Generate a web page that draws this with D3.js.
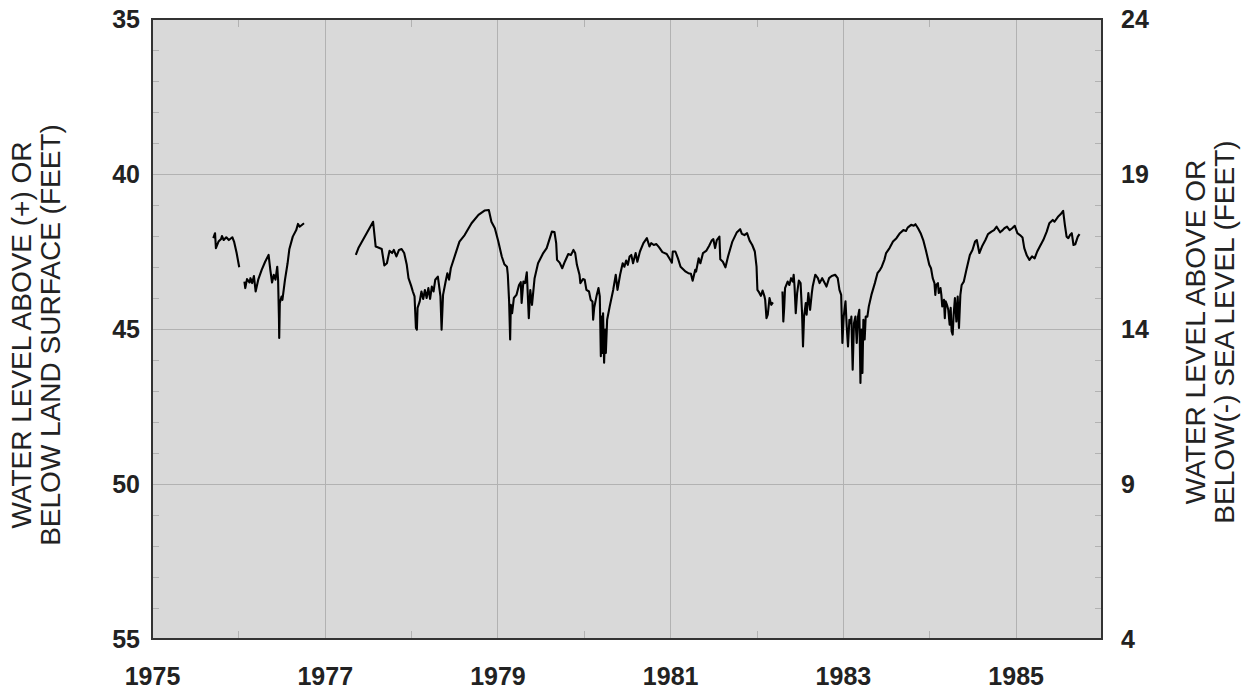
<!DOCTYPE html>
<html>
<head>
<meta charset="utf-8">
<script src="https://cdn.jsdelivr.net/npm/d3@7"></script>
<style>
  html, body { margin: 0; padding: 0; background: #ffffff; }
  svg { display: block; }
  text { font-family: "Liberation Sans", Arial, Helvetica, sans-serif; }
</style>
</head>
<body>
<svg id="chart" width="1249" height="692"></svg>
<script>
// ---- data ----
const yearTicks = [1975, 1977, 1979, 1981, 1983, 1985];
const leftTicks = [35, 40, 45, 50, 55];
const rightTicks = [24, 19, 14, 9, 4];
const leftTitle = ["WATER LEVEL ABOVE (+) OR", "BELOW LAND SURFACE (FEET)"];
const rightTitle = ["WATER LEVEL ABOVE OR", "BELOW(-) SEA LEVEL (FEET)"];

// decimal years; null level = gap in record
const years = [
  1975.71,1975.73,1975.74,1975.77,1975.80,1975.81,1975.83,1975.86,1975.89,1975.93,1975.95,1975.98,1976.01,
  1976.04,
  1976.07,1976.08,1976.10,1976.13,1976.14,1976.16,1976.18,1976.20,1976.23,1976.27,1976.31,1976.35,1976.37,
  1976.39,1976.41,1976.43,1976.45,1976.46,1976.47,1976.473,1976.48,1976.50,1976.51,1976.54,1976.57,1976.59,
  1976.63,1976.67,1976.69,1976.71,1976.76,
  1977.05,
  1977.36,1977.39,1977.56,1977.59,1977.62,1977.66,1977.69,1977.72,1977.75,1977.78,1977.80,1977.83,1977.86,
  1977.89,1977.92,1977.95,1977.97,1978.00,1978.02,1978.04,1978.056,1978.067,1978.075,1978.10,1978.12,1978.14,
  1978.16,1978.18,1978.20,1978.22,1978.24,1978.26,1978.28,1978.31,1978.32,1978.34,1978.353,1978.37,1978.40,
  1978.42,1978.44,1978.46,1978.51,1978.56,1978.62,1978.70,1978.78,1978.85,1978.90,1978.93,1978.97,1979.01,
  1979.05,1979.08,1979.11,1979.12,1979.135,1979.147,1979.155,1979.17,1979.19,1979.22,1979.25,1979.27,1979.28,
  1979.30,1979.32,1979.34,1979.363,1979.38,1979.40,1979.43,1979.47,1979.53,1979.57,1979.63,1979.66,1979.68,
  1979.69,1979.72,1979.75,1979.78,1979.82,1979.85,1979.87,1979.88,1979.90,1979.92,1979.95,1979.96,1979.99,
  1980.01,1980.03,1980.06,1980.08,1980.10,1980.108,1980.12,1980.15,1980.17,1980.185,1980.197,1980.205,1980.216,
  1980.223,1980.235,1980.247,1980.255,1980.27,1980.30,1980.34,1980.37,1980.39,1980.42,1980.45,1980.47,1980.49,
  1980.51,1980.53,1980.55,1980.57,1980.60,1980.62,1980.65,1980.69,1980.73,1980.76,1980.78,1980.81,1980.84,
  1980.87,1980.91,1980.96,1980.99,1981.02,1981.03,1981.06,1981.09,1981.12,1981.15,1981.18,1981.21,1981.24,
  1981.26,1981.29,1981.30,1981.33,1981.35,1981.38,1981.42,1981.45,1981.48,1981.50,1981.52,1981.54,1981.57,
  1981.58,1981.61,1981.64,1981.67,1981.72,1981.77,1981.81,1981.83,1981.86,1981.89,1981.92,1981.95,1981.98,
  1982.00,1982.01,1982.03,1982.05,1982.07,1982.09,1982.10,1982.115,1982.13,1982.15,1982.17,1982.19,
  1982.25,
  1982.30,1982.31,1982.32,1982.33,1982.36,1982.38,1982.40,1982.42,1982.43,1982.44,1982.454,1982.47,1982.49,
  1982.51,1982.527,1982.538,1982.55,1982.57,1982.58,1982.60,1982.62,1982.64,1982.65,1982.68,1982.71,1982.73,
  1982.76,1982.78,1982.81,1982.84,1982.87,1982.91,1982.94,1982.96,1982.98,1982.994,1983.009,1983.03,1983.044,
  1983.059,1983.075,1983.09,1983.098,1983.113,1983.128,1983.145,1983.16,1983.175,1983.19,1983.203,1983.214,
  1983.226,1983.237,1983.252,1983.264,1983.283,1983.30,1983.33,1983.37,1983.40,1983.43,1983.45,1983.48,1983.50,
  1983.54,1983.58,1983.62,1983.66,1983.70,1983.73,1983.75,1983.79,1983.82,1983.84,1983.87,1983.90,1983.93,
  1983.96,1984.00,1984.02,1984.04,1984.06,1984.07,1984.08,1984.10,1984.11,1984.13,1984.14,1984.15,1984.17,
  1984.18,1984.19,1984.205,1984.22,1984.236,1984.248,1984.259,1984.271,1984.282,1984.297,1984.314,1984.329,
  1984.344,1984.36,1984.375,1984.40,1984.43,1984.47,1984.50,1984.53,1984.55,1984.58,1984.61,1984.65,1984.68,
  1984.72,1984.75,1984.78,1984.82,1984.85,1984.87,1984.90,1984.93,1984.96,1984.99,1985.02,1985.05,1985.08,
  1985.10,1985.13,1985.16,1985.19,1985.22,1985.25,1985.28,1985.32,1985.36,1985.39,1985.43,1985.45,1985.49,
  1985.52,1985.55,1985.57,1985.59,1985.61,1985.63,1985.65,1985.67,1985.69,1985.72,1985.74
];
const levels = [
  42.07,41.91,42.39,42.18,42.10,42.00,42.13,42.04,42.13,42.04,42.18,42.55,43.01,
  null,
  43.47,43.68,43.39,43.50,43.36,43.52,43.29,43.79,43.41,43.09,42.83,42.61,43.09,
  43.50,43.25,43.41,42.99,43.41,44.65,45.29,44.16,43.95,44.06,43.41,42.88,42.43,
  42.02,41.81,41.61,41.70,41.59,
  null,
  42.61,42.39,41.54,42.34,42.37,42.42,42.95,42.88,42.48,42.55,42.45,42.66,42.45,
  42.42,42.55,42.93,43.36,43.60,43.79,43.95,44.97,45.02,44.32,44.11,43.79,44.03,
  43.74,44.00,43.68,44.03,43.63,43.79,43.41,43.31,43.52,43.95,45.02,43.90,43.47,
  43.20,43.41,43.04,42.61,42.18,41.97,41.59,41.32,41.18,41.16,41.54,41.75,42.18,
  42.66,42.91,42.99,43.25,44.11,45.34,44.22,44.49,44.00,43.90,43.58,43.49,44.16,
  43.47,43.52,43.17,44.65,43.74,44.22,43.36,42.88,42.55,42.39,41.86,41.87,42.23,
  42.77,42.86,43.04,42.83,42.58,42.61,42.51,42.45,42.55,42.93,43.25,43.52,43.39,
  43.41,43.74,43.79,44.06,44.11,44.70,44.32,43.90,43.68,43.95,45.88,44.60,45.77,
  44.49,46.09,45.02,45.77,44.70,44.27,43.74,43.25,43.74,43.25,42.88,42.99,42.79,
  42.93,42.66,42.61,42.88,42.55,42.83,42.50,42.23,42.07,42.34,42.23,42.29,42.26,
  42.36,42.52,42.58,42.72,42.86,42.50,42.50,42.72,42.99,43.07,43.15,43.20,43.22,
  43.44,43.09,43.15,42.72,42.88,42.55,42.47,42.32,42.15,42.10,42.39,42.13,42.02,
  42.75,42.83,43.01,42.66,42.18,41.89,41.78,41.93,41.97,41.91,42.15,42.29,42.50,
  42.99,43.74,43.82,43.93,43.76,43.93,44.06,44.65,44.54,44.00,44.22,44.14,
  null,
  43.79,44.76,44.32,43.68,43.47,43.58,43.36,43.47,43.25,43.63,44.49,43.84,43.44,
  43.52,44.49,45.56,44.60,44.16,44.54,43.84,44.38,43.84,43.63,43.25,43.36,43.52,
  43.36,43.47,43.63,43.36,43.29,43.25,43.36,43.74,43.90,45.45,44.60,44.11,44.92,
  45.56,44.70,44.81,44.60,46.31,44.81,44.60,45.45,44.60,44.38,46.74,45.02,
  46.42,44.70,45.34,44.60,44.60,44.27,43.90,43.52,43.20,43.09,42.99,42.77,42.55,
  42.39,42.18,42.07,41.91,41.81,41.84,41.73,41.64,41.67,41.62,41.75,41.91,42.13,
  42.45,42.93,43.04,43.36,43.52,43.90,43.58,43.52,43.84,43.68,43.90,44.27,44.06,
  44.65,44.11,44.22,44.38,44.86,44.32,45.08,45.18,44.54,44.00,44.76,43.95,
  44.97,43.90,43.58,43.47,43.09,42.61,42.45,42.18,42.13,42.55,42.34,42.13,41.94,
  41.86,41.81,41.70,41.88,41.81,41.75,41.70,41.81,41.75,41.67,41.91,41.97,42.05,
  42.39,42.63,42.77,42.66,42.72,42.50,42.34,42.13,41.86,41.59,41.48,41.54,41.38,
  41.30,41.19,41.64,42.02,42.07,41.97,41.91,42.29,42.27,42.02,41.94
];

// ---- layout ----
const W = 1249, H = 692;
const m = { left: 152, top: 19, right: 147, bottom: 53 };
const iw = W - m.left - m.right;   // 950
const ih = H - m.top - m.bottom;   // 620

const svg = d3.select("#chart");
const x = d3.scaleLinear().domain([1975, 1986]).range([m.left, m.left + iw]);
const y = d3.scaleLinear().domain([35, 55]).range([m.top, m.top + ih]);
const yR = d3.scaleLinear().domain([24, 4]).range([m.top, m.top + ih]);

// plot background
svg.append("rect")
  .attr("x", m.left).attr("y", m.top).attr("width", iw).attr("height", ih)
  .attr("fill", "#d9d9d9");

const grid = svg.append("g").attr("stroke", "#b2b2b2").attr("stroke-width", 1).attr("fill", "none");
// vertical gridlines at labelled years
grid.selectAll("line.vx").data(yearTicks.slice(1)).join("line")
  .attr("x1", d => Math.round(x(d)) + 0.5).attr("x2", d => Math.round(x(d)) + 0.5)
  .attr("y1", m.top).attr("y2", m.top + ih);
// horizontal gridlines
grid.selectAll("line.hy").data(leftTicks.slice(1, -1)).join("line")
  .attr("y1", d => Math.round(y(d)) + 0.5).attr("y2", d => Math.round(y(d)) + 0.5)
  .attr("x1", m.left).attr("x2", m.left + iw);

// minor ticks: odd years (top & bottom), every foot (left & right)
const minorYears = d3.range(1976, 1986, 2);
const minorFeet = d3.range(35, 56).filter(v => v % 5 !== 0);
grid.selectAll("line.mxb").data(minorYears).join("line")
  .attr("x1", d => Math.round(x(d)) + 0.5).attr("x2", d => Math.round(x(d)) + 0.5)
  .attr("y1", m.top + ih).attr("y2", m.top + ih - 8);
grid.selectAll("line.mxt").data(minorYears).join("line")
  .attr("x1", d => Math.round(x(d)) + 0.5).attr("x2", d => Math.round(x(d)) + 0.5)
  .attr("y1", m.top).attr("y2", m.top + 8);
grid.selectAll("line.myl").data(minorFeet).join("line")
  .attr("y1", d => Math.round(y(d)) + 0.5).attr("y2", d => Math.round(y(d)) + 0.5)
  .attr("x1", m.left).attr("x2", m.left + 7);
grid.selectAll("line.myr").data(minorFeet).join("line")
  .attr("y1", d => Math.round(y(d)) + 0.5).attr("y2", d => Math.round(y(d)) + 0.5)
  .attr("x1", m.left + iw).attr("x2", m.left + iw - 7);

// data line
const pts = years.map((t, i) => [t, levels[i]]);
const line = d3.line()
  .defined(d => d[1] != null)
  .x(d => x(d[0])).y(d => y(d[1]));
svg.append("path")
  .datum(pts)
  .attr("d", line)
  .attr("fill", "none")
  .attr("stroke", "#000")
  .attr("stroke-width", 2.1)
  .attr("stroke-linejoin", "round");

// frame
svg.append("rect")
  .attr("x", m.left).attr("y", m.top).attr("width", iw).attr("height", ih)
  .attr("fill", "none").attr("stroke", "#333").attr("stroke-width", 2);

// axes (labels only)
const fmt = d3.format("d");
const xAxis = svg.append("g")
  .attr("transform", `translate(0,${m.top + ih})`)
  .call(d3.axisBottom(x).tickValues(yearTicks).tickFormat(fmt).tickSize(0).tickPadding(28));
const yAxisL = svg.append("g")
  .attr("transform", `translate(${m.left},0)`)
  .call(d3.axisLeft(y).tickValues(leftTicks).tickFormat(fmt).tickSize(0).tickPadding(12));
const yAxisR = svg.append("g")
  .attr("transform", `translate(${m.left + iw},0)`)
  .call(d3.axisRight(yR).tickValues(rightTicks).tickFormat(fmt).tickSize(0).tickPadding(19));
[xAxis, yAxisL, yAxisR].forEach(g => {
  g.select(".domain").remove();
  g.selectAll("text")
    .attr("font-family", "'Liberation Sans', Arial, sans-serif")
    .attr("font-size", 25).attr("font-weight", "bold").attr("fill", "#222");
});

// axis titles
function title(lines, cx, cy, gap) {
  const g = svg.append("g")
    .attr("transform", `translate(${cx},${cy}) rotate(-90)`);
  g.selectAll("text").data(lines).join("text")
    .attr("x", 0).attr("y", (d, i) => i * gap)
    .attr("text-anchor", "middle")
    .attr("font-size", 28)
    .attr("fill", "#222")
    .text(d => d);
}
title(leftTitle, 31, m.top + ih / 2 + 6, 29);
title(rightTitle, 1205, m.top + ih / 2 + 3, 29);
</script>
</body>
</html>
